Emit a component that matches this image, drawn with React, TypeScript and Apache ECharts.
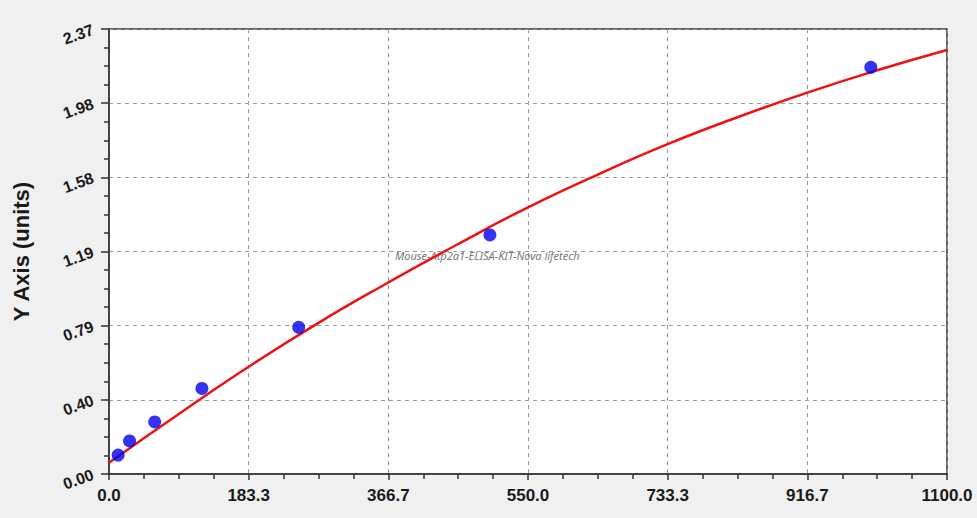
import React, { useEffect, useRef } from 'react';
import * as echarts from 'echarts';

// standard points (concentration, OD)
const stdConc = [12, 27, 60, 122, 249, 500, 1000];
const stdOd = [0.101, 0.176, 0.277, 0.456, 0.781, 1.273, 2.166];

// fitted curve
const fitConc = [0, 91.7, 183.3, 275, 366.7, 458.3, 550, 641.7, 733.3, 825, 916.7, 1008.3, 1100];
const fitOd = [0.06, 0.32, 0.571, 0.805, 1.02, 1.225, 1.42, 1.595, 1.757, 1.9, 2.031, 2.15, 2.258];

const xTickLabels = ['0.0', '183.3', '366.7', '550.0', '733.3', '916.7', '1100.0'];
const yTickLabels = ['0.00', '0.40', '0.79', '1.19', '1.58', '1.98', '2.37'];

const X_MAX = 1100;
const Y_MAX = 2.37;

const App = () => {
  const chartRef = useRef<HTMLDivElement>(null);

  useEffect(() => {
    if (!chartRef.current) return;
    const chart = echarts.init(chartRef.current, undefined, { renderer: 'svg' });

    const xStep = X_MAX / 6;
    const yStep = Y_MAX / 6;

    const option = {
      animation: false,
      backgroundColor: '#f0f0f0',
      grid: {
        left: 109,
        right: 30,
        top: 29,
        bottom: 44,
        show: true,
        backgroundColor: '#ffffff',
        borderColor: '#333333',
        borderWidth: 1.5
      },
      xAxis: {
        type: 'value',
        min: 0,
        max: X_MAX,
        interval: xStep,
        axisLine: { show: true, lineStyle: { color: '#333333', width: 1.5 } },
        axisTick: { show: true, length: 6, lineStyle: { color: '#333333', width: 1.5 } },
        minorTick: { show: true, splitNumber: 4, length: 5, lineStyle: { color: '#333333', width: 1.5 } },
        splitLine: { show: true, lineStyle: { color: '#9a9a9a', type: [4, 4], width: 1 } },
        axisLabel: {
          color: '#1a1a1a',
          fontSize: 17,
          fontWeight: 'bold',
          fontFamily: 'Liberation Sans, Arial, sans-serif',
          margin: 13,
          formatter: (v: number) => xTickLabels[Math.round(v / xStep)] ?? ''
        }
      },
      yAxis: {
        type: 'value',
        min: 0,
        max: Y_MAX,
        interval: yStep,
        name: 'Y Axis (units)',
        nameLocation: 'middle',
        nameRotate: 90,
        nameGap: 77,
        nameTextStyle: {
          color: '#1a1a1a',
          fontSize: 22,
          fontWeight: 'bold',
          fontFamily: 'Liberation Sans, Arial, sans-serif'
        },
        axisLine: { show: true, lineStyle: { color: '#333333', width: 1.5 } },
        axisTick: { show: true, length: 8, lineStyle: { color: '#333333', width: 1.5 } },
        minorTick: { show: true, splitNumber: 4, length: 5, lineStyle: { color: '#333333', width: 1.5 } },
        splitLine: { show: true, lineStyle: { color: '#9a9a9a', type: [4, 4], width: 1 } },
        axisLabel: {
          color: '#1a1a1a',
          fontSize: 16,
          fontWeight: 'bold',
          fontFamily: 'Liberation Sans, Arial, sans-serif',
          rotate: 20,
          margin: 16,
          formatter: (v: number) => yTickLabels[Math.round(v / yStep)] ?? ''
        }
      },
      graphic: [
        {
          type: 'text',
          left: 395,
          top: 250,
          z: 1,
          style: {
            text: 'Mouse-Atp2a1-ELISA-KIT-Nova lifetech',
            fill: '#777777',
            fontSize: 11,
            fontStyle: 'italic',
            fontFamily: 'Noto Sans, sans-serif'
          }
        }
      ],
      series: [
        {
          type: 'line',
          data: fitConc.map((x, i) => [x, fitOd[i]]),
          smooth: true,
          symbol: 'none',
          lineStyle: { color: '#ee1111', width: 2.5 },
          z: 3
        },
        {
          type: 'scatter',
          data: stdConc.map((x, i) => [x, stdOd[i]]),
          symbol: 'circle',
          symbolSize: 13,
          itemStyle: { color: '#0000ee' },
          z: 4
        }
      ]
    };

    chart.setOption(option as any);

    const handleResize = () => chart.resize();
    window.addEventListener('resize', handleResize);
    return () => {
      window.removeEventListener('resize', handleResize);
      chart.dispose();
    };
  }, []);

  return (
    <div
      ref={chartRef}
      style={{ position: 'fixed', left: 0, top: 0, width: '977px', height: '518px' }}
    />
  );
};

export default App;
